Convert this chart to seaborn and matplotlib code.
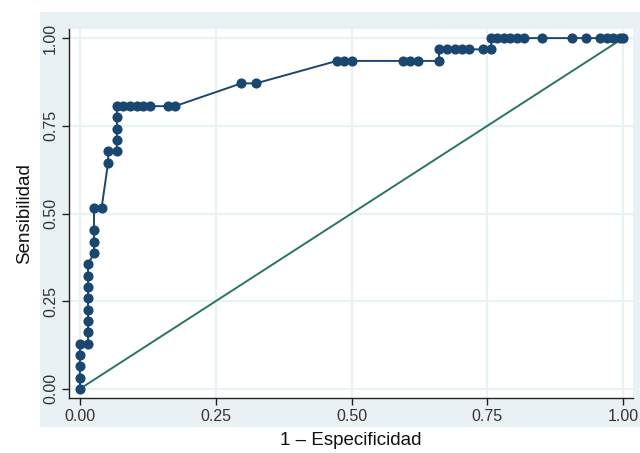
import matplotlib
matplotlib.use("Agg")
import matplotlib.pyplot as plt
from matplotlib.patches import Rectangle
import seaborn as sns

fpr = [0.0, 0.0, 0.0, 0.0, 0.0,
       0.015, 0.015, 0.015, 0.015, 0.015, 0.015, 0.015, 0.015,
       0.026, 0.026, 0.026, 0.026, 0.040,
       0.052, 0.052, 0.068, 0.068, 0.068, 0.068, 0.068,
       0.080, 0.092, 0.105, 0.116, 0.129, 0.162, 0.175,
       0.297, 0.324,
       0.473, 0.486, 0.500, 0.595, 0.608, 0.622, 0.661,
       0.661, 0.676, 0.690, 0.703, 0.716, 0.742, 0.757,
       0.757, 0.768, 0.780, 0.792, 0.805, 0.817, 0.851, 0.906, 0.932,
       0.958, 0.970, 0.982, 0.994, 1.0]
tpr = [0.0, 0.032, 0.065, 0.097, 0.129,
       0.129, 0.161, 0.194, 0.226, 0.258, 0.290, 0.323, 0.355,
       0.387, 0.419, 0.452, 0.516, 0.516,
       0.645, 0.677, 0.677, 0.710, 0.742, 0.774, 0.806,
       0.806, 0.806, 0.806, 0.806, 0.806, 0.806, 0.806,
       0.871, 0.871,
       0.935, 0.935, 0.935, 0.935, 0.935, 0.935, 0.935,
       0.968, 0.968, 0.968, 0.968, 0.968, 0.968, 0.968,
       1.0, 1.0, 1.0, 1.0, 1.0, 1.0, 1.0, 1.0, 1.0,
       1.0, 1.0, 1.0, 1.0, 1.0]
ref_x = [0.0, 1.0]
ref_y = [0.0, 1.0]
ticks = [0.0, 0.25, 0.5, 0.75, 1.0]
tick_labels = ["0.00", "0.25", "0.50", "0.75", "1.00"]

sns.set_style("white")
plt.rcParams['font.family'] = ['Liberation Sans', 'DejaVu Sans']

W, H = 640, 453
fig = plt.figure(figsize=(6.4, 4.53), dpi=100, facecolor="white")
bg = "#e8f1f3"
fig.patches.append(Rectangle((40 / W, 1 - 427 / H), 600 / W, (427 - 12) / H,
                             transform=fig.transFigure, facecolor=bg,
                             edgecolor="none", zorder=-10))
ax = fig.add_axes([69 / W, 1 - 398 / H, (633 - 69) / W, (398 - 29) / H])
ax.set_zorder(1)
ax.set_facecolor("white")

sns.lineplot(x=ref_x, y=ref_y, ax=ax, color="#2b7463", linewidth=1.4, zorder=2)
sns.lineplot(x=fpr, y=tpr, ax=ax, sort=False, estimator=None, marker="o",
             markersize=7.3, markeredgewidth=0, color="#1a476f",
             linewidth=1.4, zorder=3)

ax.set_xlim(-0.02, 1.018)
ax.set_ylim(-0.026, 1.026)
ax.set_xticks(ticks)
ax.set_xticklabels(tick_labels)
ax.set_yticks(ticks)
ax.set_yticklabels(tick_labels, rotation=90, va="center")
ax.grid(True, color=bg, linewidth=1.6)
ax.set_axisbelow(True)
for s in ["top", "right"]:
    ax.spines[s].set_visible(False)
for s in ["left", "bottom"]:
    ax.spines[s].set_color("#222222")
    ax.spines[s].set_linewidth(1.0)
ax.tick_params(axis="both", direction="out", length=5, width=1,
               color="#222222", labelsize=11.5, labelcolor="#333333",
               left=True, bottom=True, pad=3)
ax.set_xlabel("1 \u2013 Especificidad", fontsize=13.5, color="#111111", labelpad=6)
ax.set_ylabel("Sensibilidad", fontsize=13.5, color="#111111", labelpad=7)

fig.savefig("out.png", dpi=100, facecolor="white")
